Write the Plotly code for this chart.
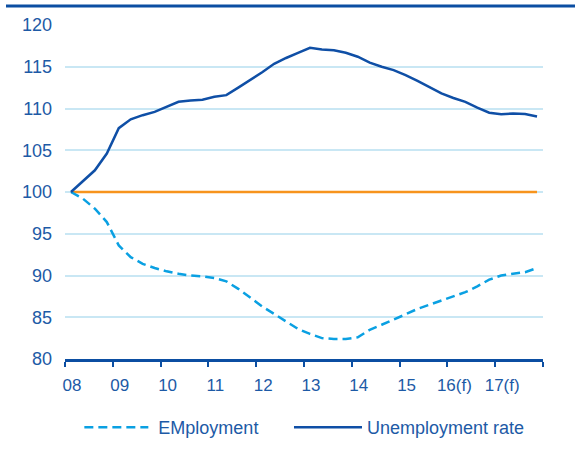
import plotly.graph_objects as go

quarters = [2008.125 + 0.25 * i for i in range(40)]

unemployment = [100, 101.3, 102.6, 104.6, 107.65, 108.7, 109.2, 109.6, 110.2, 110.8,
                110.95, 111.05, 111.4, 111.6, 112.5, 113.4, 114.35, 115.35, 116.05, 116.65,
                117.26, 117.06, 116.98, 116.67, 116.2, 115.5, 115.0, 114.6, 114.0, 113.3,
                112.5, 111.8, 111.26, 110.8, 110.1, 109.5, 109.3, 109.4, 109.35, 109.05]

employment = [100, 99.2, 98.0, 96.4, 93.6, 92.2, 91.4, 90.9, 90.5, 90.2,
              90.0, 89.9, 89.7, 89.3, 88.4, 87.3, 86.3, 85.4, 84.5, 83.6,
              83.0, 82.5, 82.4, 82.4, 82.6, 83.5, 84.1, 84.7, 85.35, 86.0,
              86.5, 87.05, 87.5, 88.0, 88.7, 89.5, 90.0, 90.2, 90.4, 90.9]

baseline = [100] * 40

tick_vals = list(range(2008, 2019))
tick_text = ["08", "09", "10", "11", "12", "13", "14", "15", "16(f)", "17(f)", ""]

TEXT = "#1d5aa6"
AXIS = "#0b4ea2"
GRID = "#c9e7f4"

fig = go.Figure()
fig.add_trace(go.Scatter(x=quarters, y=baseline, mode="lines",
                         line=dict(color="#f7941d", width=2.5), showlegend=False,
                         hoverinfo="skip"))
fig.add_trace(go.Scatter(x=quarters, y=employment, mode="lines", name="\u00a0EMployment",
                         line=dict(color="#0aa0e2", width=2.5, dash="9px,5px"),
                         legend="legend"))
fig.add_trace(go.Scatter(x=quarters, y=unemployment, mode="lines", name="Unemployment rate",
                         line=dict(color="#0f4fa6", width=2.5), legend="legend2"))

leg_common = dict(orientation="h", xanchor="left", y=-0.15, yanchor="top",
                  font=dict(size=18, color=TEXT), bgcolor="rgba(0,0,0,0)")

fig.update_layout(
    width=575, height=458,
    margin=dict(l=65, r=32, t=25, b=97),
    plot_bgcolor="white", paper_bgcolor="white",
    font=dict(family="Liberation Sans, Arial, sans-serif", size=17, color=TEXT),
    legend=dict(x=0.03, itemwidth=64, **leg_common),
    legend2=dict(x=0.4686, itemwidth=68, **leg_common),
    xaxis=dict(range=[2008, 2018], tickvals=tick_vals, ticktext=tick_text,
               showgrid=False, zeroline=False, showline=True, linecolor=AXIS, linewidth=2.5,
               ticks="outside", ticklen=5, tickwidth=2, tickcolor=AXIS,
               ticklabelshift=7, ticklabelstandoff=4,
               tickfont=dict(size=17, color=TEXT)),
    yaxis=dict(range=[80, 120], dtick=5, showgrid=True, gridcolor=GRID, gridwidth=1.5,
               zeroline=False, showline=False, ticks="", ticklabelstandoff=12,
               tickfont=dict(size=18, color=TEXT)),
    shapes=[dict(type="line", xref="paper", yref="paper",
                 x0=(6 - 65) / 478, x1=(575 - 65) / 478,
                 y0=1 + 19 / 336, y1=1 + 19 / 336,
                 line=dict(color="#0b4ea2", width=3))],
)

fig.write_html("out.html")
